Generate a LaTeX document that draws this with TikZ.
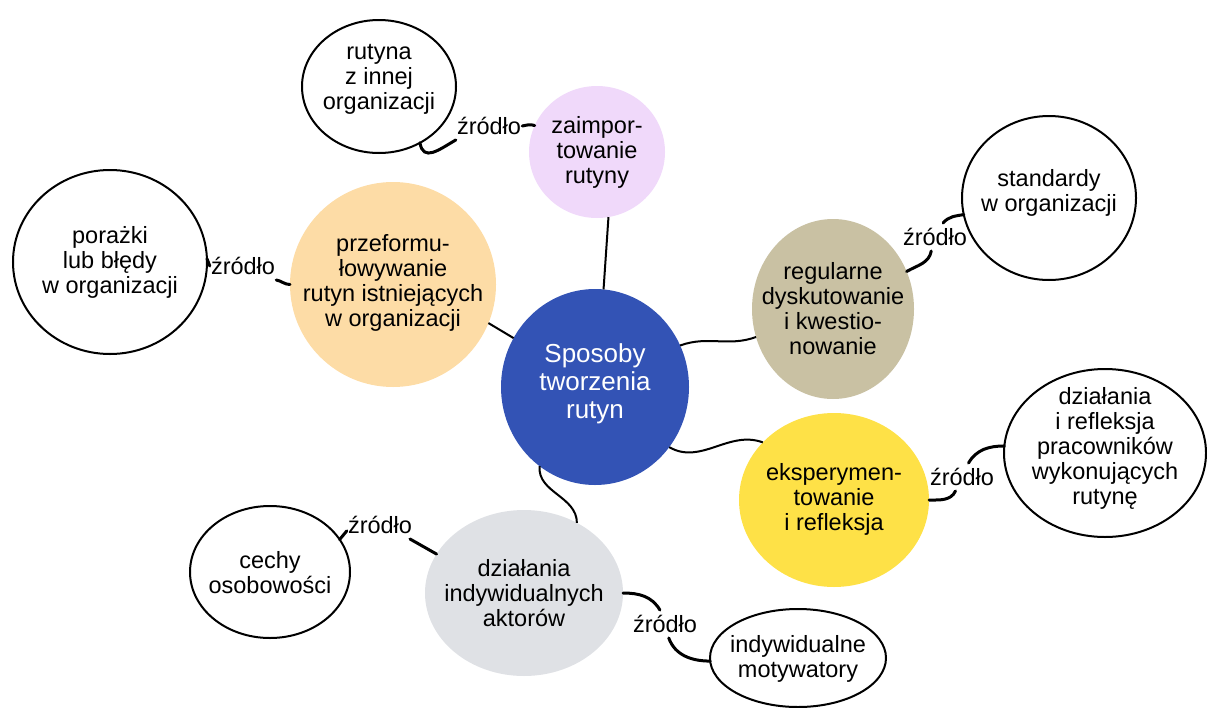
\documentclass[tikz,border=0pt]{standalone}
\usepackage{fontspec}
\setmainfont{Liberation Sans}
\usetikzlibrary{shapes.geometric}
\definecolor{cblue}{RGB}{51,83,181}
\definecolor{clav}{RGB}{240,217,250}
\definecolor{corange}{RGB}{253,220,166}
\definecolor{ctan}{RGB}{201,193,163}
\definecolor{cyellow}{RGB}{254,225,71}
\definecolor{cgrey}{RGB}{223,225,229}
\begin{document}
\begin{tikzpicture}[x=1pt,y=1pt,
  every node/.style={font=\fontsize{23.5}{25}\selectfont},
  bub/.style 2 args={ellipse, inner sep=0pt, outer sep=0pt, minimum width=#1, minimum height=#2},
  wline/.style={draw=black, line width=2pt, fill=white},
  txt/.style={align=center, inner sep=0pt},
  lab/.style={inner xsep=1pt, inner ysep=5pt},
  src/.style={line width=3pt, line cap=round},
  lnk/.style={line width=2pt}]
\useasboundingbox (0,0) rectangle (1207,-707);

% bubbles
\node[bub={188}{196}, fill=cblue] (c) at (595,-387) {};
\node[txt, text=white, font=\fontsize{26}{28}\selectfont] (tc) at (595,-384) {Sposoby\\tworzenia\\rutyn};

\node[bub={136}{132}, fill=clav] (zai) at (597,-152) {};
\node[txt] (tzai) at (597,-152) {zaimpor-\\towanie\\rutyny};

\node[bub={154}{133}, wline] (rut) at (379,-86.5) {};
\node[txt] (trut) at (379,-79) {rutyna\\z innej\\organizacji};

\node[bub={206}{205}, fill=corange] (prz) at (393,-284.5) {};
\node[txt] (tprz) at (393,-283) {przeformu-\\łowywanie\\rutyn istniejących\\w organizacji};

\node[bub={194}{184}, wline] (por) at (110,-262) {};
\node[txt] (tpor) at (110,-262) {porażki\\lub błędy\\w organizacji};

\node[bub={162}{180}, fill=ctan] (reg) at (833,-309) {};
\node[txt] (treg) at (833,-309) {regularne\\dyskutowanie\\i kwestio-\\nowanie};

\node[bub={174}{164}, wline] (std) at (1049,-198) {};
\node[txt] (tstd) at (1049,-193) {standardy\\w organizacji};

\node[bub={190}{174}, fill=cyellow] (eks) at (834,-500) {};
\node[txt] (teks) at (834,-499) {eksperymen-\\towanie\\i refleksja};

\node[bub={202}{168}, wline] (dzr) at (1105,-453) {};
\node[txt] (tdzr) at (1105,-448) {działania\\i refleksja\\pracowników\\wykonujących\\rutynę};

\node[bub={198}{166}, fill=cgrey] (dia) at (524,-593) {};
\node[txt] (tdia) at (524,-593) {działania\\indywidualnych\\aktorów};

\node[bub={160}{132}, wline] (cec) at (270,-572) {};
\node[txt] (tcec) at (270,-573) {cechy\\osobowości};

\node[bub={176}{98}, wline] (ind) at (798,-658) {};
\node[txt] (tind) at (798,-659) {indywidualne\\motywatory};

% labels
\node[lab] (l1) at (489,-126) {źródło};
\node[lab] (l2) at (243,-266) {źródło};
\node[lab] (l3) at (935,-237) {źródło};
\node[lab] (l4) at (962,-477) {źródło};
\node[lab] (l5) at (380,-525) {źródło};
\node[lab] (l6) at (665,-624) {źródło};

% links from centre
\draw[lnk] (c.85) -- (zai.-80);
\draw[lnk] (c.149) -- (prz.-22);
\draw[lnk] (c.26) to[out=20,in=200] (reg.200);
\draw[lnk] (c.-39) to[out=-30,in=160] (eks.141);
\draw[lnk] (c.-125) to[out=-95,in=90] (dia.53);

% source links
\draw[src] (rut.-54) to[out=-80,in=-150,looseness=1.4] (l1.south west);
\draw[src] (l1.east) to[out=10,in=160] (zai.157);
\draw[src] (por.2) -- (l2.west);
\draw[src] (l2.south east) to[out=-10,in=180] (prz.180);
\draw[src] (std.191) to[out=190,in=50] (l3.60);
\draw[src] (l3.-105) to[out=-100,in=30] (reg.27);
\draw[src] (eks.0) to[out=0,in=-115] (l4.-115);
\draw[src] (l4.65) to[out=60,in=180] (dzr.176);
\draw[src] (cec.25) -- (l5.-170);
\draw[src] (l5.-25) -- (dia.156);
\draw[src] (dia.0) to[out=0,in=120] (l6.110);
\draw[src] (l6.-75) to[out=-70,in=180] (ind.182);
\end{tikzpicture}
\end{document}
